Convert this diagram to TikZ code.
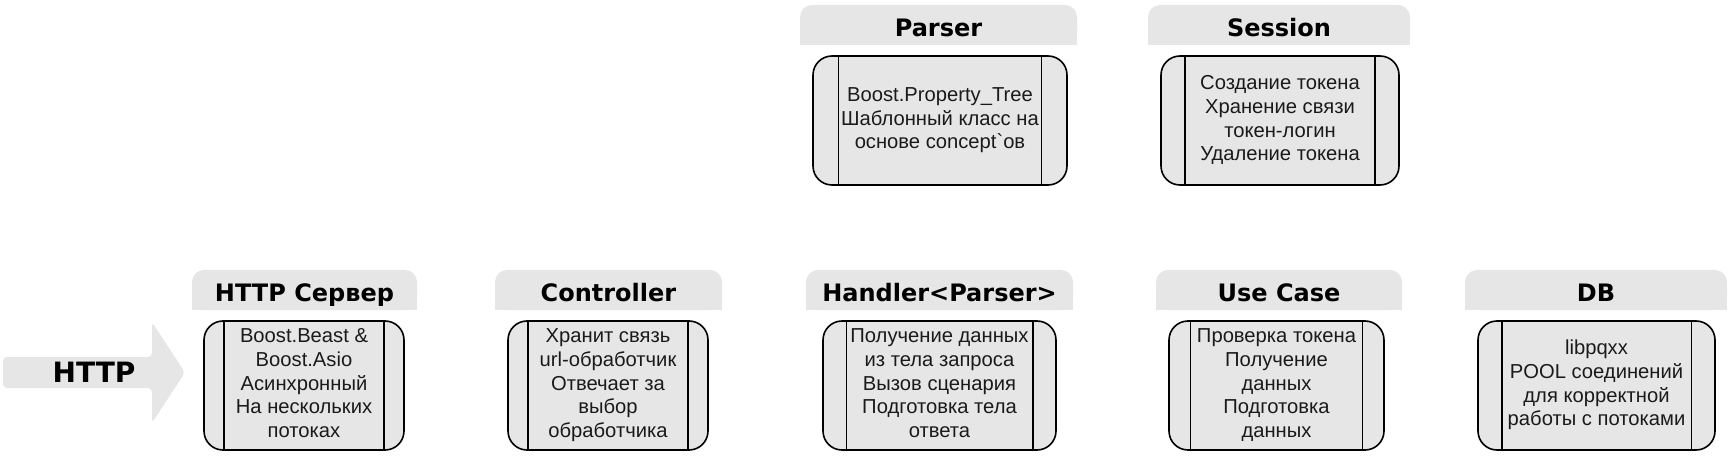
\documentclass[tikz,border=0pt]{standalone}
\usepackage{fontspec}
\setmainfont{Liberation Sans}[Ligatures=TeXOff]
\newfontfamily\hdrfont{DejaVu Sans}
\usetikzlibrary{backgrounds}
\definecolor{pgray}{HTML}{E6E6E6}
\definecolor{txt}{HTML}{1A1A1A}
\tikzset{
  hdr/.style={inner sep=0pt, outer sep=0pt, anchor=north west, minimum height=40pt,
    font=\hdrfont\bfseries\fontsize{24}{28}\selectfont, text height=23.5pt, text depth=0pt},
  procbox/.style={draw=black, fill=pgray, line width=1.6pt, rounded corners=19pt,
    inner sep=0pt, outer sep=0pt, anchor=north west, minimum height=129pt,
    align=center, text=txt, font=\fontsize{20.2}{23.7}\selectfont},
  divider/.style={draw=black, line width=1.6pt},
  bigarrow/.style={fill=pgray, rounded corners=4pt},
  arrowlabel/.style={inner sep=0pt, font=\hdrfont\bfseries\fontsize{28}{32}\selectfont,
    text height=20.4pt, text depth=0pt}
}
% #1 name, #2 title, #3 header x0, #4 header x1, #5 header y0, #6 box x0, #7 box x1, #8 box y0, #9 text
\newcommand\mkcomp[9]{%
  \pgfmathsetmacro\cmphw{#4-#3}%
  \node[hdr, minimum width=\cmphw pt] (#1h) at (#3,#5) {#2};
  \pgfmathsetmacro\cmpbw{#7-#6}%
  \node[procbox, minimum width=\cmpbw pt] (#1) at (#6,#8)
    {\raisebox{-3pt}{\begin{tabular}{@{}c@{}}#9\end{tabular}}};
  \pgfmathsetmacro\cmpin{0.1*\cmpbw}%
  \draw[divider] ([xshift=\cmpin pt]#1.north west) -- ([xshift=\cmpin pt]#1.south west);
  \draw[divider] ([xshift=-\cmpin pt]#1.north east) -- ([xshift=-\cmpin pt]#1.south east);
  \begin{scope}[on background layer]
    \fill[pgray, rounded corners=12pt] (#1h.north west) rectangle (#1h.south east);
    \fill[pgray] (#1h.west) rectangle (#1h.south east);
  \end{scope}
}
\begin{document}
\begin{tikzpicture}[x=1pt, y=-1pt]
\useasboundingbox (0,0) rectangle (1734,462);
% HTTP arrow
\fill[bigarrow] (3,357) -- (152,357) -- (152,322) -- (185,372.5) -- (152,423) -- (152,388) -- (3,388) -- cycle;
\node[arrowlabel] (http) at (94,372.5) {HTTP};
% bottom row
\mkcomp{srv}{HTTP Сервер}{192}{417}{270}{204}{404}{321}{Boost.Beast \&\\Boost.Asio\\Асинхронный\\На нескольких\\потоках}
\mkcomp{ctl}{Controller}{495}{722}{270}{508}{708}{321}{Хранит связь\\url-обработчик\\Отвечает за\\выбор\\обработчика}
\mkcomp{hnd}{Handler<Parser>}{806}{1073}{270}{823}{1056}{321}{Получение данных\\из тела запроса\\Вызов сценария\\Подготовка тела\\ответа}
\mkcomp{uc}{Use Case}{1156}{1402}{270}{1169}{1384}{321}{Проверка токена\\Получение\\данных\\Подготовка\\данных}
\mkcomp{db}{DB}{1465}{1727}{270}{1478}{1715}{321}{libpqxx\\POOL соединений\\для корректной\\работы с потоками}
% top row
\mkcomp{prs}{Parser}{800}{1077}{5}{813}{1067}{56}{Boost.Property\_Tree\\Шаблонный класс на\\основе concept`ов}
\mkcomp{ses}{Session}{1148}{1410}{5}{1161}{1399}{56}{Создание токена\\Хранение связи\\токен-логин\\Удаление токена}
\end{tikzpicture}
\end{document}
